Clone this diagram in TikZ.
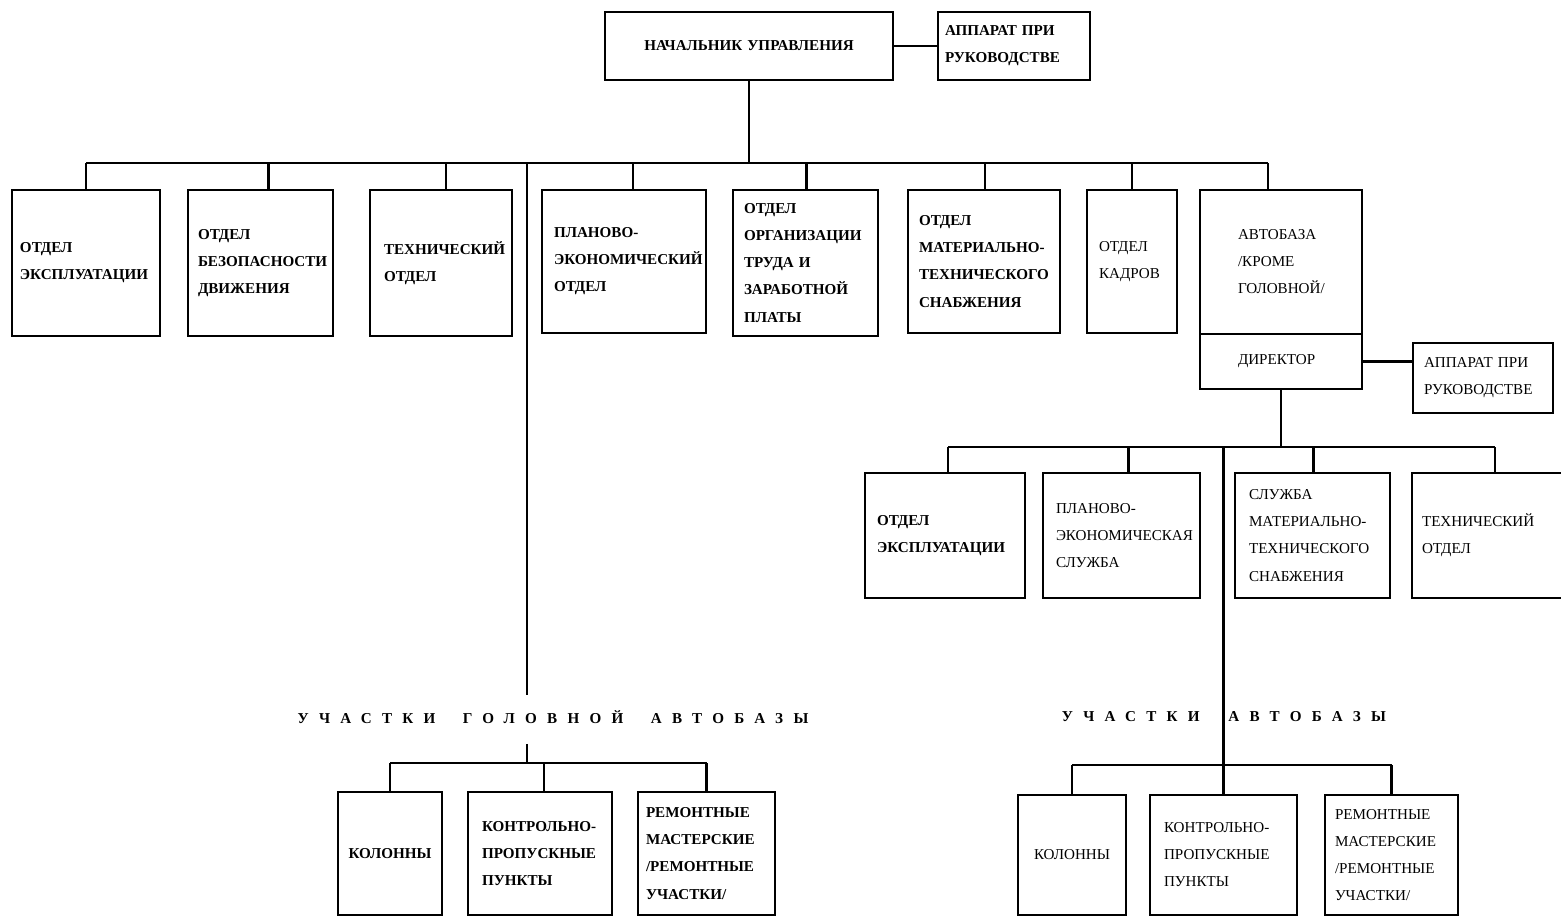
\documentclass[tikz,border=0pt]{standalone}
\usepackage{fontspec}
\setmainfont{Liberation Serif}
\begin{document}
\tikzset{
  box/.style={draw, line width=1.3pt, inner ysep=0pt, align=left,
    font=\fontsize{8.6}{15.4}\selectfont},
  heavy/.style={line width=1.6pt, font=\fontsize{8.6}{15.4}\selectfont\bfseries},
  light/.style={line width=1.2pt},
  conn/.style={line width=1.2pt},
  lab/.style={font=\fontsize{8.6}{12}\selectfont\bfseries\addfontfeature{LetterSpace=68}, inner sep=0pt},
}
\newcommand\wg{\hspace*{0.55cm}}
\newcommand\bx[8][]{%
  \pgfmathsetmacro\bxw{(#5-#3)*0.02}%
  \pgfmathsetmacro\bxh{(#6-#4)*0.02}%
  \pgfmathsetmacro\bxi{#7*0.02}%
  \pgfmathsetmacro\bxt{\bxw-2*\bxi}%
  \node[box,#1,minimum width=\bxw cm,minimum height=\bxh cm,inner xsep=\bxi cm,text width=\bxt cm] (#2) at ({(#3+#5)/2},{(#4+#6)/2}) {#8};}
\begin{tikzpicture}[x=0.02cm,y=-0.02cm]
\useasboundingbox (0,0) rectangle (1561,918);
\clip (0,0) rectangle (1561,918);
% top level
\bx[heavy,align=center]{top}{605}{12}{893}{80}{8}{НАЧАЛЬНИК УПРАВЛЕНИЯ}
\bx[heavy]{app1}{938}{12}{1090}{80}{7}{АППАРАТ ПРИ\\РУКОВОДСТВЕ}
\draw[conn] (top.east) -- (top.east -| app1.west);
% first row
\bx[heavy]{b1}{12}{190}{160}{336}{8}{ОТДЕЛ\\ЭКСПЛУАТАЦИИ}
\bx[heavy]{b2}{188}{190}{333}{336}{10}{ОТДЕЛ\\БЕЗОПАСНОСТИ\\ДВИЖЕНИЯ}
\bx[heavy]{b3}{370}{190}{512}{336}{14}{ТЕХНИЧЕСКИЙ\\ОТДЕЛ}
\bx[heavy]{b4}{542}{190}{706}{333}{12}{ПЛАНОВО-\\ЭКОНОМИЧЕСКИЙ\\ОТДЕЛ}
\bx[heavy]{b5}{733}{190}{878}{336}{11}{ОТДЕЛ\\ОРГАНИЗАЦИИ\\ТРУДА И\\ЗАРАБОТНОЙ\\ПЛАТЫ}
\bx[heavy]{b6}{908}{190}{1060}{333}{11}{ОТДЕЛ\\МАТЕРИАЛЬНО-\\ТЕХНИЧЕСКОГО\\СНАБЖЕНИЯ}
\bx[light]{b7}{1087}{190}{1177}{333}{12}{ОТДЕЛ\\КАДРОВ}
\bx[light]{b8}{1200}{190}{1362}{334}{38}{АВТОБАЗА\\/КРОМЕ\\ГОЛОВНОЙ/}
\bx[light]{dir}{1200}{334}{1362}{389}{38}{ДИРЕКТОР}
\bx[light]{app2}{1413}{343}{1553}{413}{11}{АППАРАТ ПРИ\\РУКОВОДСТВЕ}
\coordinate (bus1) at (0,163);
\draw[conn] (top.south) -- (top.south |- bus1);
\draw[conn] (b1.north |- bus1) -- ([xshift=-13*0.02cm]b8.north |- bus1);
\foreach \n/\s in {b1/0,b2/8,b3/5,b4/9,b5/1,b6/1,b7/0,b8/-13}
  \draw[conn] ([xshift=\s*0.02cm]\n.north) -- ([xshift=\s*0.02cm]\n.north |- bus1);
\draw[conn] (dir.east) -- (dir.east -| app2.west);
% second row under director
\bx[heavy]{c1}{865}{473}{1025}{598}{12}{ОТДЕЛ\\ЭКСПЛУАТАЦИИ}
\bx[light]{c2}{1043}{473}{1200}{598}{13}{ПЛАНОВО-\\ЭКОНОМИЧЕСКАЯ\\СЛУЖБА}
\bx[light]{c3}{1235}{473}{1390}{598}{14}{СЛУЖБА\\МАТЕРИАЛЬНО-\\ТЕХНИЧЕСКОГО\\СНАБЖЕНИЯ}
\bx[light]{c4}{1412}{473}{1578}{598}{10}{ТЕХНИЧЕСКИЙ\\ОТДЕЛ}
\coordinate (bus2) at (0,447);
\draw[conn] (dir.south) -- (dir.south |- bus2);
\draw[conn] ([xshift=3*0.02cm]c1.north |- bus2) -- (c4.north |- bus2);
\foreach \n/\s in {c1/3,c2/7,c3/1,c4/0}
  \draw[conn] ([xshift=\s*0.02cm]\n.north) -- ([xshift=\s*0.02cm]\n.north |- bus2);
% bottom left group
\node[lab] (lab1) at (553,717) {УЧАСТКИ\wg ГОЛОВНОЙ\wg АВТОБАЗЫ};
\bx[heavy,align=center]{d1}{338}{792}{442}{915}{8}{КОЛОННЫ}
\bx[heavy]{d2}{468}{792}{612}{915}{14}{КОНТРОЛЬНО-\\ПРОПУСКНЫЕ\\ПУНКТЫ}
\bx[heavy]{d3}{638}{792}{775}{915}{8}{РЕМОНТНЫЕ\\МАСТЕРСКИЕ\\/РЕМОНТНЫЕ\\УЧАСТКИ/}
\coordinate (L1) at (527,163);
\coordinate (bus3) at (0,763);
\draw[conn] (L1) -- ([yshift=0.3cm]L1 |- lab1.north);
\draw[conn] ([yshift=-0.4cm]L1 |- lab1.south) -- (L1 |- bus3);
\draw[conn] (d1.north |- bus3) -- (d3.north |- bus3);
\foreach \n/\s in {d1/0,d2/4,d3/0}
  \draw[conn] ([xshift=\s*0.02cm]\n.north) -- ([xshift=\s*0.02cm]\n.north |- bus3);
% bottom right group
\node[lab,anchor=east] (lab2a) at (1200,717) {УЧАСТКИ};
\node[lab,anchor=west] (lab2b) at (1228,717) {АВТОБАЗЫ};
\bx[light,align=center]{e1}{1018}{795}{1126}{915}{8}{КОЛОННЫ}
\bx[light]{e2}{1150}{795}{1297}{915}{14}{КОНТРОЛЬНО-\\ПРОПУСКНЫЕ\\ПУНКТЫ}
\bx[light]{e3}{1325}{795}{1458}{915}{10}{РЕМОНТНЫЕ\\МАСТЕРСКИЕ\\/РЕМОНТНЫЕ\\УЧАСТКИ/}
\coordinate (bus4) at (0,765);
\draw[conn] (e2.north |- bus2) -- (e2.north);
\draw[conn] (e1.north |- bus4) -- (e3.north |- bus4);
\foreach \n in {e1,e3}
  \draw[conn] (\n.north) -- (\n.north |- bus4);
\end{tikzpicture}
\end{document}
